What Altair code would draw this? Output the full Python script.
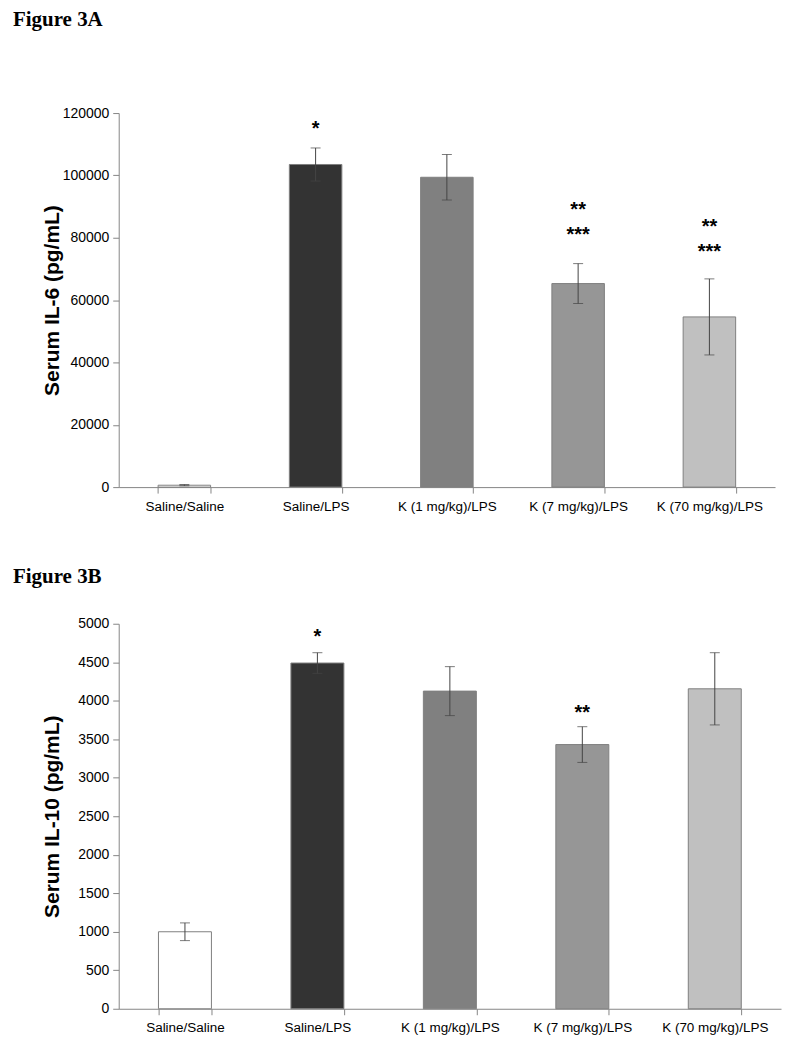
import altair as alt
import pandas as pd

categories = ["Saline/Saline", "Saline/LPS", "K (1 mg/kg)/LPS", "K (7 mg/kg)/LPS", "K (70 mg/kg)/LPS"]
bar_colors = ["#FFFFFF", "#333333", "#808080", "#969696", "#C0C0C0"]

il6_mean = [600, 103500, 99400, 65300, 54600]
il6_err = [200, 5300, 7300, 6400, 12200]
il6_ticks = [0, 20000, 40000, 60000, 80000, 100000, 120000]
il6_star_groups = ["Saline/LPS", "K (7 mg/kg)/LPS", "K (7 mg/kg)/LPS", "K (70 mg/kg)/LPS", "K (70 mg/kg)/LPS"]
il6_star_pos = [116500, 90500, 82500, 85100, 77100]
il6_star_text = ["*", "**", "***", "**", "***"]

il10_mean = [1000, 4490, 4125, 3431, 4155]
il10_err = [115, 134, 318, 232, 469]
il10_ticks = [0, 500, 1000, 1500, 2000, 2500, 3000, 3500, 4000, 4500, 5000]
il10_star_groups = ["Saline/LPS", "K (7 mg/kg)/LPS"]
il10_star_pos = [4890, 3900]
il10_star_text = ["*", "**"]

SANS = "Liberation Sans"


def panel(mean, err, ticks, ytitle, fig_title, w, h, sg, sp, st, dx, offset):
    df = pd.DataFrame({
        "group": categories,
        "mean": mean,
        "lo": [m - e for m, e in zip(mean, err)],
        "hi": [m + e for m, e in zip(mean, err)],
        "color": bar_colors,
    })
    sdf = pd.DataFrame({"group": sg, "pos": sp, "label": st})
    xaxis = alt.Axis(title=None, labelAngle=0, tickBand="extent", tickSize=6,
                     labelPadding=6, labelFont=SANS, labelFontSize=13.5,
                     labelColor="#000000", domainColor="#868686",
                     tickColor="#868686")
    xscale = alt.Scale(paddingInner=0.6, paddingOuter=0.3)
    xenc = alt.X("group:N", sort=categories, scale=xscale, axis=xaxis)
    yscale = alt.Scale(domain=[ticks[0], ticks[-1]], nice=False)
    yaxis = alt.Axis(title=ytitle, values=ticks, format="d", tickSize=6,
                     labelPadding=4, labelFont=SANS, labelFontSize=14,
                     labelOverlap=False,
                     labelColor="#000000", domainColor="#868686",
                     tickColor="#868686", grid=False, titleFont=SANS,
                     titleFontSize=21, titleFontWeight="bold",
                     titleColor="#000000", titleX=-56, titleY=h / 2,
                     titleAngle=270, titleBaseline="bottom", titleAlign="center")

    def Y(field):
        return alt.Y(field, scale=yscale, axis=yaxis)

    base = alt.Chart(df).encode(x=xenc)
    bars = base.mark_bar(stroke="#808080", strokeWidth=1).encode(
        y=Y("mean:Q"),
        color=alt.Color("color:N", scale=None),
    )
    rule = base.mark_rule(color="#444444", strokeWidth=1).encode(
        y=Y("lo:Q"), y2="hi:Q")
    cap_hi = base.mark_tick(color="#444444", thickness=1, size=10).encode(y=Y("hi:Q"))
    cap_lo = base.mark_tick(color="#444444", thickness=1, size=10).encode(y=Y("lo:Q"))
    stars = alt.Chart(sdf).mark_text(
        font=SANS, fontSize=20, fontWeight="bold", baseline="alphabetic",
        dy=11, color="#000000").encode(
        x=alt.X("group:N", sort=categories, scale=xscale, axis=xaxis),
        y=Y("pos:Q"),
        text="label:N",
    )
    return alt.layer(bars, rule, cap_hi, cap_lo, stars).properties(
        width=w, height=h,
        title=alt.TitleParams(fig_title, anchor="start", frame="group", dx=dx,
                              dy=-10, offset=offset, font="Liberation Serif",
                              fontSize=21, fontWeight="bold",
                              baseline="top", color="#000000"),
    )


a = panel(il6_mean, il6_err, il6_ticks, "Serum IL-6 (pg/mL)", "Figure 3A",
          658, 375, il6_star_groups, il6_star_pos, il6_star_text, -106, 66)
b = panel(il10_mean, il10_err, il10_ticks, "Serum IL-10 (pg/mL)", "Figure 3B",
          664, 386, il10_star_groups, il10_star_pos, il10_star_text, -106, 20)

chart = alt.vconcat(a, b, spacing=53).properties(
    padding={"left": 5, "top": 0, "right": 5, "bottom": 5},
    background="white",
).configure_view(stroke=None)

chart.save("out.html", embed_options={"renderer": "svg", "actions": False})
